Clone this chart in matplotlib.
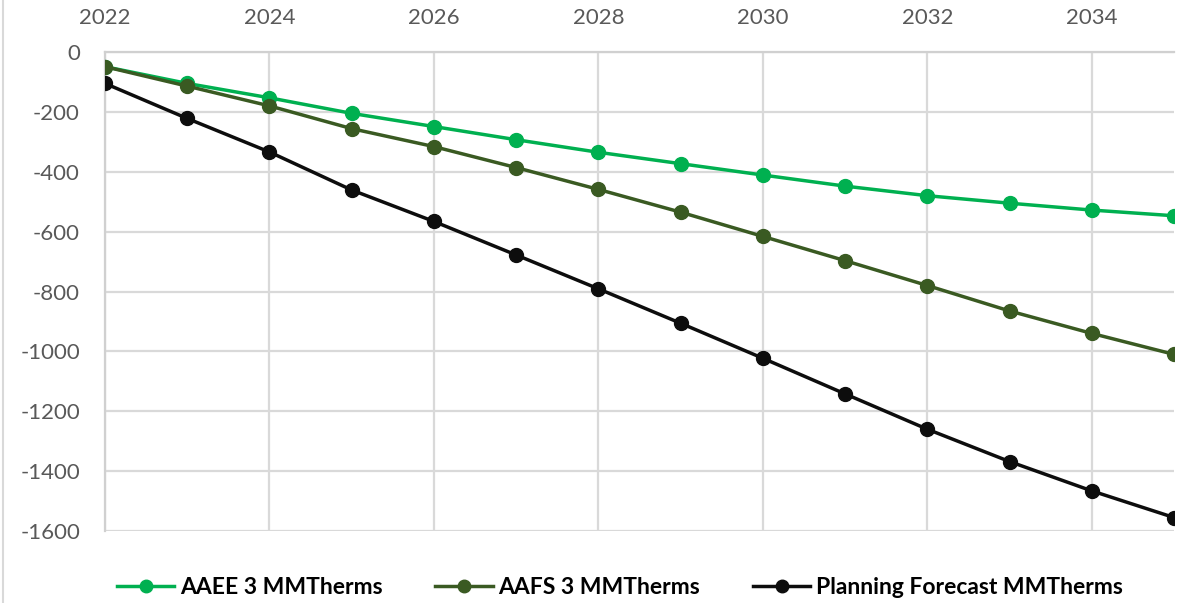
import matplotlib
matplotlib.use("Agg")
import matplotlib.pyplot as plt
from matplotlib.lines import Line2D

years = list(range(2022, 2036))
aaee = [-49, -105, -153, -205, -249, -293, -335, -373, -411, -448, -480, -505, -528, -547]
aafs = [-49, -114, -180, -256, -316, -386, -459, -535, -616, -697, -780, -865, -940, -1010]
planning = [-105, -222, -334, -461, -566, -678, -791, -906, -1023, -1142, -1260, -1368, -1466, -1555]

series_names = ["AAEE 3 MMTherms", "AAFS 3 MMTherms", "Planning Forecast MMTherms"]
series_colors = ["#00B050", "#3A5A22", "#0D0D0D"]
x_ticks = list(range(2022, 2035, 2))
y_ticks = list(range(-1600, 1, 200))

plt.rcParams["font.family"] = ["Lato", "DejaVu Sans"]
plt.rcParams["axes.unicode_minus"] = False

fig = plt.figure(figsize=(12.02, 6.03), dpi=100)
ax = fig.add_axes([105 / 1202, 1 - 531 / 603, (1174 - 105) / 1202, (531 - 52) / 603])

for vals, name, col in zip([aaee, aafs, planning], series_names, series_colors):
    ax.plot(years, vals, color=col, lw=2.5, marker="o", ms=10, label=name,
            solid_capstyle="round", zorder=3)

ax.set_xlim(2022, 2035)
ax.set_ylim(-1600, 0)
ax.set_xticks(x_ticks)
ax.set_yticks(y_ticks)
ax.xaxis.tick_top()
ax.tick_params(axis="both", length=0, labelsize=16, colors="#595959")
ax.tick_params(axis="x", pad=17)
ax.tick_params(axis="y", pad=18)
ax.grid(True, color="#D9D9D9", lw=1.6, zorder=0)
ax.set_axisbelow(True)
for side in ["right", "bottom"]:
    ax.spines[side].set_visible(False)
for side in ["top", "left"]:
    ax.spines[side].set_color("#D0D0D0")
    ax.spines[side].set_linewidth(1.6)

handles = [Line2D([], [], color=c, lw=2.5, marker="o", ms=9) for c in series_colors]
leg = fig.legend(handles, series_names, loc="center",
                 bbox_to_anchor=(620 / 1202, 1 - 588 / 603),
                 ncol=3, frameon=False, handlelength=2.5, columnspacing=2.3,
                 handletextpad=0.25, prop={"size": 16.5, "weight": "bold"})

fig.add_artist(Line2D([3 / 1202, 3 / 1202], [0, 1], transform=fig.transFigure,
                      color="#D9D9D9", lw=1.5))

fig.savefig("out.png", dpi=100, facecolor="white")
